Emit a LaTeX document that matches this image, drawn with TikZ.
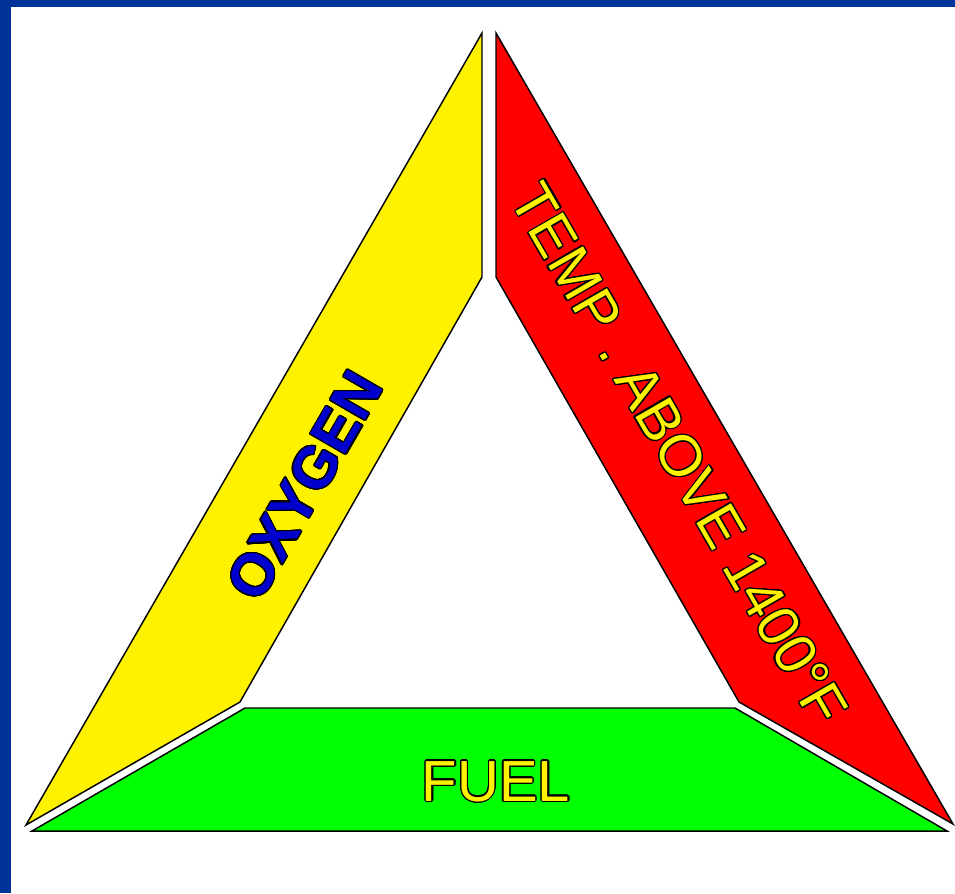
\documentclass[tikz,border=0pt]{standalone}
\usepackage{fontspec}
\setmainfont{Liberation Sans}
\usepackage[copies]{contour}
\contourlength{0.9pt}
\contournumber{24}
\usetikzlibrary{positioning}
\definecolor{frameblue}{RGB}{0,51,153}
\definecolor{oxyblue}{RGB}{0,0,204}
\tikzset{firetriangle/.style={
    x=0.75pt, y=-0.75pt,
    side/.style={draw=black, line width=1.1pt, line join=miter},
    word/.style={inner sep=0pt, font=\fontsize{43.5}{48}\selectfont},
}}

\begin{document}
\begin{tikzpicture}[firetriangle]
    \fill[white] (0,0) rectangle (955,893);
    \useasboundingbox (0,0) rectangle (955,893);
    \fill[frameblue] (0,0) rectangle (955,7);
    \fill[frameblue] (0,0) rectangle (11,893);
    % the three sides
    \draw[side, fill=yellow] (482,33) -- (482,277) -- (240,702) -- (26,825) -- cycle;
    \draw[side, fill=red] (496,33) -- (496,277) -- (739,702) -- (953,824) -- cycle;
    \draw[side, fill=green] (245,708) -- (735,708) -- (947,831) -- (32,831) -- cycle;
    % labels
    \node[word, text=oxyblue, font=\fontsize{44}{48}\selectfont\bfseries, rotate=60] (oxygen) at (305,486) {\contour{black}{OXYGEN}};
    \node[word, text=yellow, rotate=-60] (temp) at (679,454) {\contour{black}{TEMP . ABOVE 1400°F}};
    \node[word, text=yellow] (fuel) at (496,782) {\contour{black}{FUEL}};
\end{tikzpicture}
\end{document}
